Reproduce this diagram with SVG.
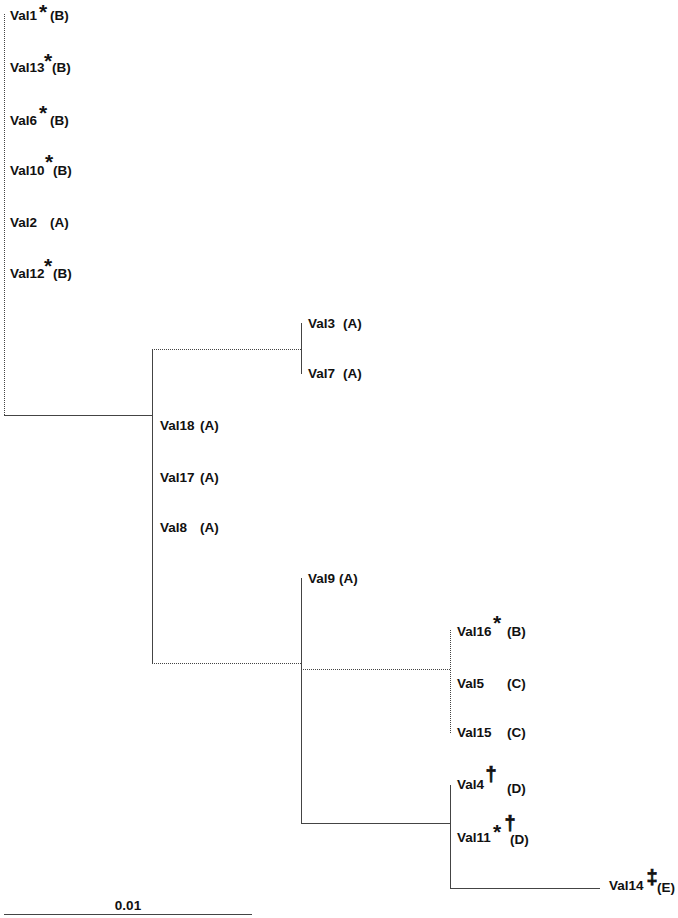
<svg xmlns="http://www.w3.org/2000/svg" width="678" height="918" viewBox="0 0 678 918">
<style>
.t{font-family:"Liberation Sans",Arial,sans-serif;font-size:13.5px;font-weight:bold;fill:#111}
.s{font-family:"Liberation Sans",Arial,sans-serif;font-size:21px;font-weight:bold;fill:#111;text-anchor:middle}
.d{font-family:"Liberation Sans",Arial,sans-serif;font-size:20px;font-weight:bold;fill:#111;stroke:#111;stroke-width:0.7;text-anchor:middle}
.ln{stroke:#444;stroke-width:1;fill:none}
.dot{stroke:#444;stroke-width:1;fill:none;stroke-dasharray:1 1}
</style>
<rect width="678" height="918" fill="#fff"/>
<g id="connectors">
<line class="dot" x1="4.5" y1="14" x2="4.5" y2="415"/>
<line class="ln" x1="4" y1="415.5" x2="152" y2="415.5"/>
<line class="ln" x1="152.5" y1="349" x2="152.5" y2="663"/>
<line class="dot" x1="152" y1="349.5" x2="301" y2="349.5"/>
<line class="ln" x1="301.5" y1="323" x2="301.5" y2="374"/>
<line class="dot" x1="152" y1="663.5" x2="301" y2="663.5"/>
<line class="ln" x1="301.5" y1="578" x2="301.5" y2="824"/>
<line class="dot" x1="301" y1="669.5" x2="450" y2="669.5"/>
<line class="dot" x1="450.5" y1="630" x2="450.5" y2="734"/>
<line class="ln" x1="301" y1="823.5" x2="450" y2="823.5"/>
<line class="ln" x1="450.5" y1="785" x2="450.5" y2="889"/>
<line class="ln" x1="450" y1="888.5" x2="600" y2="888.5"/>
</g>
<g id="Val1"><text class="t" x="10" y="20">Val1</text><text class="s" x="43" y="19">*</text><text class="t" x="50" y="20">(B)</text></g>
<g id="Val13"><text class="t" x="10" y="72">Val13</text><text class="s" x="48" y="68">*</text><text class="t" x="52" y="72">(B)</text></g>
<g id="Val6"><text class="t" x="10" y="125">Val6</text><text class="s" x="43" y="120">*</text><text class="t" x="50" y="125">(B)</text></g>
<g id="Val10"><text class="t" x="10" y="175">Val10</text><text class="s" x="49" y="169">*</text><text class="t" x="53" y="175">(B)</text></g>
<g id="Val2"><text class="t" x="10" y="227">Val2</text><text class="t" x="50" y="227">(A)</text></g>
<g id="Val12"><text class="t" x="10" y="278">Val12</text><text class="s" x="48" y="273">*</text><text class="t" x="53" y="278">(B)</text></g>
<g id="Val3"><text class="t" x="308" y="328">Val3</text><text class="t" x="343" y="328">(A)</text></g>
<g id="Val7"><text class="t" x="308" y="378">Val7</text><text class="t" x="343" y="378">(A)</text></g>
<g id="Val18"><text class="t" x="160" y="430">Val18</text><text class="t" x="200" y="430">(A)</text></g>
<g id="Val17"><text class="t" x="160" y="482">Val17</text><text class="t" x="200" y="482">(A)</text></g>
<g id="Val8"><text class="t" x="160" y="532">Val8</text><text class="t" x="200" y="532">(A)</text></g>
<g id="Val9"><text class="t" x="308" y="583">Val9</text><text class="t" x="339" y="583">(A)</text></g>
<g id="Val16"><text class="t" x="457" y="636">Val16</text><text class="s" x="497" y="630">*</text><text class="t" x="507" y="636">(B)</text></g>
<g id="Val5"><text class="t" x="457" y="688">Val5</text><text class="t" x="507" y="688">(C)</text></g>
<g id="Val15"><text class="t" x="457" y="737">Val15</text><text class="t" x="507" y="737">(C)</text></g>
<g id="Val4"><text class="t" x="457" y="789">Val4</text><text class="d" x="491" y="781">†</text><text class="t" x="507" y="793">(D)</text></g>
<g id="Val11"><text class="t" x="457" y="842">Val11</text><text class="s" x="497" y="839">*</text><text class="d" x="510" y="830">†</text><text class="t" x="510" y="844">(D)</text></g>
<g id="Val14"><text class="t" x="609" y="890">Val14</text><text class="d" x="652" y="884">‡</text><text class="t" x="657" y="892">(E)</text></g>
<g id="scale"><line class="ln" x1="4" y1="914.5" x2="252" y2="914.5"/><text class="t" x="128" y="910" text-anchor="middle">0.01</text></g>
</svg>
